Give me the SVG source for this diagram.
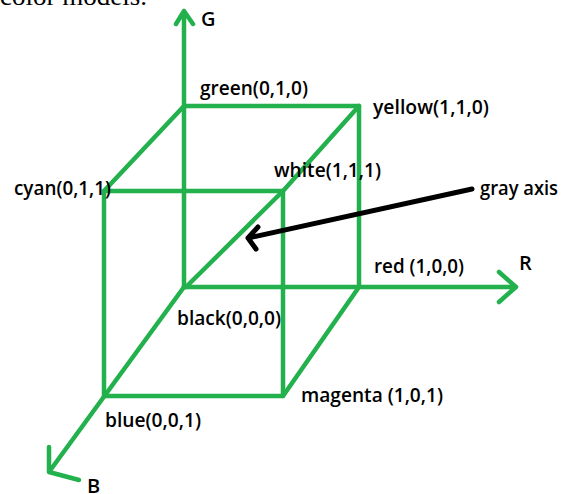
<svg xmlns="http://www.w3.org/2000/svg" width="566" height="494" viewBox="0 0 566 494">
<style>
.g{stroke:#22B14C;stroke-width:4.5;fill:none;stroke-linecap:round;stroke-linejoin:round}
.k{stroke:#000;stroke-width:5;fill:none;stroke-linecap:round;stroke-linejoin:round}
text{font-family:"Open Sans","Liberation Sans",sans-serif;font-size:20px;font-weight:600;fill:#000}
.top{font-family:"Liberation Serif",serif;font-size:26px;font-weight:normal}
</style>
<rect width="566" height="494" fill="#fff"/>
<text class="top" x="0" y="4.5" textLength="147" lengthAdjust="spacingAndGlyphs">color models.</text>
<g id="connectors">
<path class="g" d="M184,287 L184,11 M176,24 L184,11 L193,24"/>
<path class="g" d="M184,287 L516,287 M499,272 L516,287 L499,302"/>
<path class="g" d="M184,287 L49,472 M49,447 L49,472 L79,480"/>
<path class="g" d="M184,106 L359,106 L359,287"/>
<path class="g" d="M104,191 L283,191 L283,396 L104,396 Z"/>
<path class="g" d="M184,106 L104,191"/>
<path class="g" d="M359,106 L283,191 L186,287"/>
<path class="g" d="M359,287 L283,396"/>
<path class="k" d="M472,189 L248,238 M258,227 L248,238 L256,249"/>
</g>
<g id="axis-G"><text x="201" y="26">G</text></g>
<g id="axis-R"><text x="519" y="270">R</text></g>
<g id="axis-B"><text x="87" y="493">B</text></g>
<g id="green"><text x="200" y="95" textLength="108" lengthAdjust="spacingAndGlyphs">green(0,1,0)</text></g>
<g id="yellow"><text x="373" y="114" textLength="116" lengthAdjust="spacingAndGlyphs">yellow(1,1,0)</text></g>
<g id="white"><text x="274" y="177" textLength="107" lengthAdjust="spacingAndGlyphs">white(1,1,1)</text></g>
<g id="gray-axis"><text x="480" y="195" textLength="78" lengthAdjust="spacingAndGlyphs">gray axis</text></g>
<g id="cyan"><text x="14" y="195" textLength="97" lengthAdjust="spacingAndGlyphs">cyan(0,1,1)</text></g>
<g id="red"><text x="374" y="273" textLength="90" lengthAdjust="spacingAndGlyphs">red (1,0,0)</text></g>
<g id="black"><text x="177" y="325" textLength="104" lengthAdjust="spacingAndGlyphs">black(0,0,0)</text></g>
<g id="magenta"><text x="301" y="402" textLength="142" lengthAdjust="spacingAndGlyphs">magenta (1,0,1)</text></g>
<g id="blue"><text x="105" y="427" textLength="96" lengthAdjust="spacingAndGlyphs">blue(0,0,1)</text></g>
</svg>
